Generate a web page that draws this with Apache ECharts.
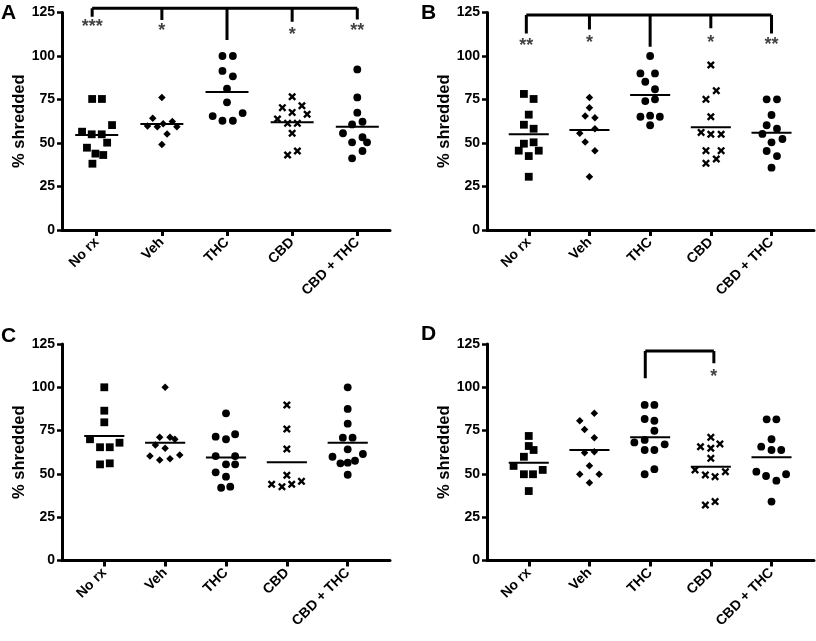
<!DOCTYPE html>
<html>
<head>
<meta charset="utf-8">
<script src="https://cdn.jsdelivr.net/npm/echarts@6/dist/echarts.min.js"></script>
<style>
html,body{margin:0;padding:0;background:#fff;}
#chart{width:816px;height:641px;}
</style>
</head>
<body>
<div id="chart"></div>
<script>
// ---------- DATA ----------
const categories = ['No rx', 'Veh', 'THC', 'CBD', 'CBD + THC'];
const yTickValues = [0, 25, 50, 75, 100, 125];
const panelLetters = ['A', 'B', 'C', 'D'];
const yAxisTitle = '% shredded';

// Panel A: values per group, horizontal spread (in category units), means
const valuesA = [
  [75.3, 75.3, 60.3, 56.5, 55, 55, 50.2, 47.3, 43.9, 43.1, 38.1],
  [76.2, 64.2, 59.8, 59.4, 61.1, 62.3, 59.4, 55.2, 49.2],
  [100, 100, 91.4, 88.3, 81.2, 73.4, 65.5, 67.2, 62.8, 62.8],
  [76.6, 70.3, 71.4, 67.6, 66.5, 63.8, 61.3, 61.3, 55.6, 43.1, 45.4],
  [92.3, 76.2, 67.4, 60.7, 62.2, 55.6, 50.4, 53.3, 50.4, 45.4, 41.2]
];
const spreadA = [
  [-0.07, 0.08, 0.235, -0.225, -0.077, 0.077, 0.16, -0.15, -0.02, 0.1, -0.066],
  [0, -0.14, -0.22, -0.07, 0.02, 0.16, 0.23, 0.08, 0],
  [-0.07, 0.09, -0.07, 0.09, 0, 0, -0.22, 0.24, -0.07, 0.09],
  [0, -0.15, 0.15, 0, 0.23, -0.225, -0.07, 0.08, 0, -0.07, 0.08],
  [0, 0, 0, -0.08, 0.08, -0.22, -0.08, 0.08, 0.15, 0.08, -0.08]
];
const meansA = [54.6, 60.9, 79.3, 61.9, 59.4];

// Panel B
const valuesB = [
  [78.2, 75.3, 66.3, 60.5, 58.2, 49.6, 50.4, 45.6, 42.5, 45.6, 30.6],
  [76.2, 70.3, 65.5, 64.5, 58.2, 55.6, 50.6, 45.6, 30.6],
  [100, 90, 90, 85.2, 80.9, 74.1, 75.1, 65.1, 65.7, 65.1, 60.2],
  [94.8, 80.1, 75.1, 65.1, 56.1, 55, 55, 45.6, 45.6, 38.3, 40.8],
  [75.1, 75.1, 66.1, 60.2, 58.2, 55.2, 52.3, 50.4, 45.4, 42.5, 35.8]
];
const spreadB = [
  [-0.08, 0.08, 0, -0.08, 0.08, -0.08, 0.08, -0.165, 0, 0.165, 0],
  [0, 0, -0.07, 0.09, 0.09, -0.16, -0.07, 0.09, 0],
  [0, -0.16, 0.08, -0.08, 0.08, -0.08, 0.08, -0.16, 0, 0.16, 0],
  [0, 0.09, -0.08, 0, -0.16, 0, 0.17, -0.08, 0.17, -0.08, 0.09],
  [-0.08, 0.09, 0, -0.08, 0.09, -0.15, 0.18, 0, -0.08, 0.09, 0]
];
const meansB = [55, 57.5, 77.6, 59.0, 55.9];

// Panel C
const valuesC = [
  [100, 86.5, 79.8, 70, 65.4, 65.4, 68, 55.5, 56.1],
  [100, 71.1, 71.1, 70, 66.7, 64.8, 60.3, 58, 58.8, 60.9],
  [85, 71.5, 70, 72.9, 60.3, 60.3, 55.5, 55.5, 50.9, 48.4, 42, 42.6],
  [89.8, 75.9, 64.4, 49.2, 44, 42.6, 44, 45.7],
  [100, 87.5, 79, 70.9, 70.9, 64.2, 59.9, 61.5, 56.1, 56.5, 57.6, 49.5]
];
const spreadC = [
  [0, 0, 0, -0.235, -0.07, 0.09, 0.25, -0.07, 0.09],
  [0, -0.09, 0.08, 0.16, -0.16, 0, -0.25, -0.09, 0.08, 0.24],
  [0, -0.17, 0, 0.15, -0.17, 0.15, 0, 0.15, -0.17, 0, -0.08, 0.07],
  [0, 0, 0, 0, -0.25, -0.08, 0.08, 0.24],
  [0, 0, 0, -0.08, 0.08, 0, -0.25, 0.25, -0.12, 0, 0.12, 0]
];
const meansC = [71.9, 68, 59.4, 56.7, 68];

// Panel D
const valuesD = [
  [71.9, 66.1, 63.8, 59.9, 54.6, 49.8, 49.8, 52.3, 40.1],
  [85, 80.7, 75.7, 70.9, 62.2, 62.8, 54.7, 49.8, 49.8, 44.9],
  [89.8, 89.8, 81.7, 80.7, 74.9, 68.2, 69.6, 67.1, 63.8, 63.8, 49.8, 52.7],
  [71.1, 65.7, 64.8, 67.3, 59, 52.3, 49.4, 48.4, 51.3, 32, 34],
  [81.5, 81.5, 70, 65.7, 63.8, 63.8, 51.3, 48.8, 46.1, 49.8, 34]
];
const spreadD = [
  [0, 0, 0.08, -0.08, -0.25, -0.08, 0.07, 0.23, 0],
  [0.08, -0.16, -0.08, 0.08, -0.08, 0.08, 0, -0.16, 0.16, 0],
  [-0.09, 0.07, -0.09, 0.07, 0.07, -0.26, -0.09, 0.24, -0.09, 0.07, -0.09, 0.07],
  [0, -0.17, 0, 0.15, 0, -0.26, -0.09, 0.07, 0.24, -0.09, 0.07],
  [-0.08, 0.08, 0, -0.17, 0, 0.16, -0.25, -0.09, 0.08, 0.24, 0]
];
const meansD = [56.5, 63.8, 71.1, 54.2, 59.6];

// Significance brackets (bar level, anchor categories, drop end values, star labels, star levels)
const bracketLevelA = 127.4;
const bracketAnchorsA = [0.93, 2, 3, 4, 5];
const bracketEndsA = [122.6, 120.7, 109.2, 119.7, 121];
const starsA = ['***', '*', '', '*', '**'];
const starLevelsA = [119, 116.7, null, 114.5, 116.8];

const bracketLevelB = 123.6;
const bracketAnchorsB = [0.96, 2, 3, 4, 5];
const bracketEndsB = [113, 115.3, 105.3, 115.9, 113];
const starsB = ['**', '*', '', '*', '**'];
const starLevelsB = [108.2, 110.2, null, 110.2, 108.8];

const bracketLevelD = 121;
const bracketAnchorsD = [2.92, 4.05];
const bracketEndsD = [105.2, 113.9];
const starsD = ['', '*'];
const starLevelsD = [null, 108.4];

// ---------- LAYOUT / STYLE ----------
const FONT = 'Liberation Sans, Arial, sans-serif';
const gridsLayout = [
  {left: 62, top: 12.5, width: 328, height: 217.5},
  {left: 487, top: 12.5, width: 327, height: 217.5},
  {left: 62, top: 344, width: 328, height: 216.5},
  {left: 487, top: 344, width: 327, height: 216.5}
];
const xRanges = [[0.467, 5.502], [0.312, 5.70], [0.305, 5.695], [0.312, 5.70]];
const letterPos = [[1, 3], [421, 3], [1, 326], [421, 324]];
const symbols = ['rect', 'diamond', 'circle',
  'path://M0,2.1 L2.1,0 L5,2.9 L7.9,0 L10,2.1 L7.1,5 L10,7.9 L7.9,10 L5,7.1 L2.1,10 L0,7.9 L2.9,5 Z',
  'circle'];
const symbolSizes = [7.8, 7.5, 7.8, 8, 7.8];
const meanHalf = 0.33;

const panels = [
  {values: valuesA, spread: spreadA, means: meansA,
   br: {level: bracketLevelA, anchors: bracketAnchorsA, ends: bracketEndsA, stars: starsA, starLevels: starLevelsA}},
  {values: valuesB, spread: spreadB, means: meansB,
   br: {level: bracketLevelB, anchors: bracketAnchorsB, ends: bracketEndsB, stars: starsB, starLevels: starLevelsB}},
  {values: valuesC, spread: spreadC, means: meansC, br: null},
  {values: valuesD, spread: spreadD, means: meansD,
   br: {level: bracketLevelD, anchors: bracketAnchorsD, ends: bracketEndsD, stars: starsD, starLevels: starLevelsD}}
];

const grid = [], xAxis = [], yAxis = [], series = [], graphic = [];
const catPositions = categories.map((c, i) => i + 1);

function seg(p, pts, width) {
  series.push({
    type: 'line', xAxisIndex: p, yAxisIndex: p, data: pts, symbol: 'none', clip: false,
    silent: true, animation: false,
    lineStyle: {color: '#000', width: width, cap: 'butt'}, z: 3
  });
}

panels.forEach((pn, p) => {
  grid.push(Object.assign({containLabel: false, outerBoundsMode: 'none'}, gridsLayout[p]));
  xAxis.push({
    gridIndex: p, type: 'value', min: xRanges[p][0], max: xRanges[p][1],
    axisLine: {show: true, onZero: false, lineStyle: {color: '#000', width: 3}},
    axisTick: {show: true, customValues: catPositions, length: 6, lineStyle: {color: '#000', width: 3}},
    axisLabel: {
      show: true, customValues: catPositions, rotate: 45, margin: 10,
      formatter: v => categories[Math.round(v) - 1] || '',
      color: '#000', fontWeight: 'bold', fontSize: 14, fontFamily: FONT
    },
    splitLine: {show: false}
  });
  yAxis.push({
    gridIndex: p, type: 'value', min: yTickValues[0], max: yTickValues[yTickValues.length - 1],
    interval: yTickValues[1] - yTickValues[0],
    axisLine: {show: true, onZero: false, lineStyle: {color: '#000', width: 3}},
    axisTick: {show: true, length: 5, lineStyle: {color: '#000', width: 2.5}},
    axisLabel: {margin: 7, color: '#000', fontWeight: 'bold', fontSize: 14, fontFamily: FONT},
    splitLine: {show: false},
    name: yAxisTitle, nameLocation: 'middle', nameGap: 32,
    nameTextStyle: {color: '#000', fontWeight: 'bold', fontSize: 16.5, fontFamily: FONT}
  });

  pn.values.forEach((vals, g) => {
    series.push({
      type: 'scatter', xAxisIndex: p, yAxisIndex: p,
      symbol: symbols[g], symbolSize: symbolSizes[g],
      itemStyle: {color: '#000', opacity: 1}, animation: false, z: 4,
      data: vals.map((v, i) => [g + 1 + pn.spread[g][i], v])
    });
    seg(p, [[g + 1 - meanHalf, pn.means[g]], [g + 1 + meanHalf, pn.means[g]]], 2);
  });

  if (pn.br) {
    const b = pn.br;
    seg(p, [[b.anchors[0], b.level], [b.anchors[b.anchors.length - 1], b.level]], 3);
    b.anchors.forEach((a, k) => {
      seg(p, [[a, b.level], [a, b.ends[k]]], 3);
    });
    series.push({
      type: 'scatter', xAxisIndex: p, yAxisIndex: p, symbol: 'circle', symbolSize: 0.1,
      clip: false, silent: true, animation: false,
      itemStyle: {color: 'rgba(0,0,0,0)'},
      label: {show: true, position: 'inside', formatter: d => d.data[2],
        color: '#111', fontSize: 18, fontWeight: 'bold', fontFamily: FONT, offset: [0, 4.5]},
      data: b.anchors.map((a, k) => [a, b.starLevels[k], b.stars[k]]).filter(d => d[2])
    });
  }

  graphic.push({
    type: 'text', left: letterPos[p][0], top: letterPos[p][1],
    style: {text: panelLetters[p], font: 'bold 21px ' + FONT, fill: '#000'}
  });
});

const chart = echarts.init(document.getElementById('chart'), null, {renderer: 'canvas'});
chart.setOption({
  animation: false,
  backgroundColor: '#fff',
  grid, xAxis, yAxis, series, graphic
});
</script>
</body>
</html>
